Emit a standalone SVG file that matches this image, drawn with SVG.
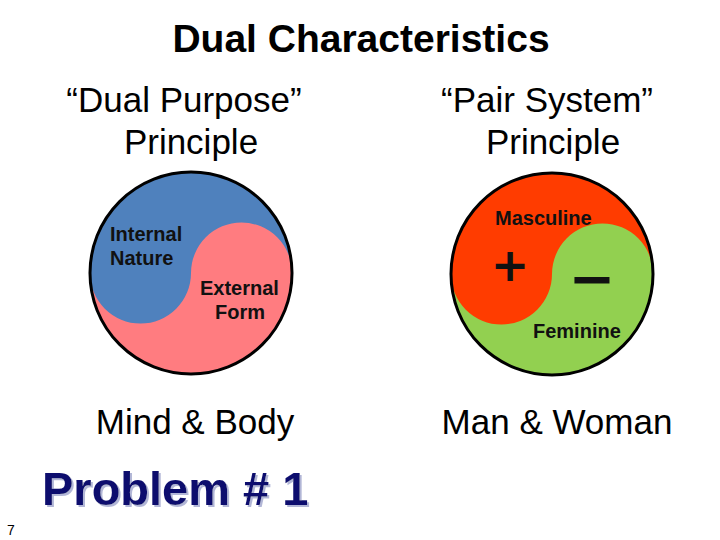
<svg xmlns="http://www.w3.org/2000/svg" width="720" height="540" viewBox="0 0 720 540">
<style>
.title{font-family:"Liberation Sans",Arial,sans-serif;font-weight:bold;font-size:39px;fill:#000;text-anchor:middle}
.sub{font-family:"Liberation Sans",Arial,sans-serif;font-size:35px;fill:#000;text-anchor:middle}
.lbl{font-family:"Liberation Sans",Arial,sans-serif;font-weight:bold;font-size:20px;fill:#111}
.sym{font-family:"DejaVu Sans",sans-serif;font-weight:bold;fill:#111;text-anchor:middle}
.prob{font-family:"Liberation Sans",Arial,sans-serif;font-weight:bold;font-size:47px;fill:#0F0F6E}
.ring{fill:none;stroke:#000;stroke-width:3}
</style>
<defs>
<filter id="shadow" x="-5%" y="-20%" width="115%" height="150%">
<feDropShadow dx="2" dy="2" stdDeviation="0.6" flood-color="#9EA4CC" flood-opacity="0.8"/>
</filter>
</defs>
<rect width="720" height="540" fill="#fff"/>
<g id="title"><text class="title" x="361" y="52">Dual Characteristics</text></g>
<g id="dual-purpose">
<text class="sub" x="184" y="112">“Dual Purpose”</text>
<text class="sub" x="191" y="154">Principle</text>
<circle cx="191" cy="273" r="101" fill="#FF7C80"/>
<path d="M90,273 A101,101 0 0 1 292,273 A50.5,50.5 0 0 0 191,273 A50.5,50.5 0 0 1 90,273 Z" fill="#4F81BD"/>
<circle class="ring" cx="191" cy="273" r="101"/>
<text class="lbl" x="110" y="241">Internal</text>
<text class="lbl" x="110" y="265">Nature</text>
<text class="lbl" x="200" y="295">External</text>
<text class="lbl" x="215" y="319">Form</text>
<text class="sub" x="195" y="434">Mind &amp; Body</text>
</g>
<g id="pair-system">
<text class="sub" x="547" y="112">“Pair System”</text>
<text class="sub" x="553" y="154">Principle</text>
<circle cx="552" cy="274" r="101" fill="#92D050"/>
<path d="M451,274 A101,101 0 0 1 653,274 A50.5,50.5 0 0 0 552,274 A50.5,50.5 0 0 1 451,274 Z" fill="#FF3C00"/>
<circle class="ring" cx="552" cy="274" r="101"/>
<text class="lbl" x="495" y="225">Masculine</text>
<text class="sym" x="510" y="281" font-size="46">+</text>
<text class="sym" x="592" y="298" font-size="56">−</text>
<text class="lbl" x="533" y="338">Feminine</text>
<text class="sub" x="557" y="434">Man &amp; Woman</text>
</g>
<g id="problem">
<text class="prob" x="42" y="505" filter="url(#shadow)">Problem # 1</text>
</g>
<g id="page"><text x="7" y="535" font-family="Liberation Sans,Arial,sans-serif" font-size="14" fill="#000">7</text></g>
</svg>
